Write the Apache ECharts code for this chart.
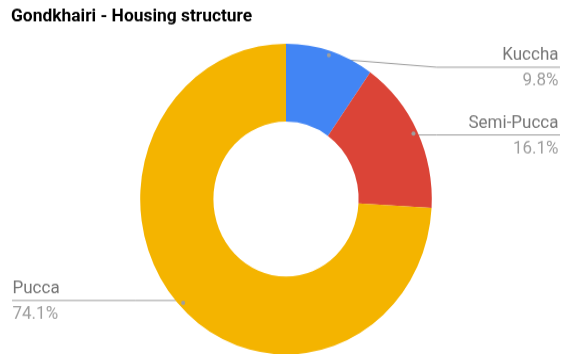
<!DOCTYPE html>
<html>
<head>
<meta charset="utf-8">
<title>Gondkhairi - Housing structure</title>
<script src="https://cdn.jsdelivr.net/npm/echarts@6/dist/echarts.min.js"></script>
<style>
  html, body { margin: 0; padding: 0; background: #fff; width: 561px; height: 354px; overflow: hidden; }
  /* the chart is drawn 332px tall and stretched to fill the 354px frame */
  #main { width: 561px; height: 332px; transform: scaleY(1.0663); transform-origin: 0 0; }
</style>
</head>
<body>
<div id="main"></div>
<script>
// Housing structure shares (%)
const categories = ['Kuccha', 'Semi-Pucca', 'Pucca'];
const shares = [9.8, 16.1, 74.1];
const sliceColors = ['#4285f4', '#db4437', '#f4b400'];

const CENTER = [286, 186.7];
const R_OUT = 145.8;
const R_IN = 72.6;
const DOT_R = 0.95 * R_OUT;   // where each leader line starts
const LINE_TOP = 63;          // leader lines are kept below this y

const chart = echarts.init(document.getElementById('main'), null, { renderer: 'canvas' });

const pieData = categories.map((name, i) => ({
  name: name,
  value: shares[i],
  itemStyle: { color: sliceColors[i] }
}));

chart.setOption({
  animation: false,
  title: {
    text: 'Gondkhairi - Housing structure',
    left: 11,
    top: 7.5,
    padding: 0,
    textStyle: { fontFamily: 'Roboto', fontWeight: 'bold', fontSize: 17.4, color: '#000' }
  },
  series: [
    {
      type: 'pie',
      center: CENTER,
      radius: [R_IN, R_OUT],
      startAngle: 90,
      clockwise: true,
      percentPrecision: 1,
      avoidLabelOverlap: false,
      silent: true,
      data: pieData,
      label: {
        show: true,
        position: 'outside',
        formatter: '{n|{b}}\n{v|{d}%}',
        rich: {
          n: { fontFamily: 'Roboto', fontSize: 17, color: '#757575', lineHeight: 24 },
          v: { fontFamily: 'Roboto', fontSize: 17, color: '#9e9e9e', lineHeight: 24 }
        }
      },
      labelLine: {
        show: true,
        length: 10,
        length2: 10,
        lineStyle: { color: '#9e9e9e', width: 1 }
      },
      labelLayout: function (p) {
        const w = chart.getWidth();
        const rim = p.labelLinePoints[0];
        const dx = rim[0] - CENTER[0];
        const dy = rim[1] - CENTER[1];
        const len = Math.sqrt(dx * dx + dy * dy) || 1;
        const start = [CENTER[0] + dx / len * DOT_R, CENTER[1] + dy / len * DOT_R];
        const right = dx > 0;
        const lineY = Math.max(start[1], LINE_TOP);
        const elbowX = right ? CENTER[0] + R_OUT + 5 : CENTER[0] - R_OUT - 5;
        const endX = right ? w - 1 : 12;
        return {
          x: right ? w - 2.5 : 12.5,
          y: lineY + 1,
          align: right ? 'right' : 'left',
          verticalAlign: 'middle',
          labelLinePoints: [start, [elbowX, lineY], [endX, lineY]]
        };
      }
    },
    {
      // small markers where the leader lines leave the ring
      type: 'pie',
      center: CENTER,
      radius: [2 * DOT_R - R_OUT, R_OUT],
      startAngle: 90,
      clockwise: true,
      silent: true,
      z: 3,
      data: categories.map((name, i) => ({ name: name, value: shares[i] })),
      itemStyle: { color: 'rgba(0,0,0,0)' },
      label: {
        show: true,
        position: 'inside',
        formatter: '{d| }',
        rich: { d: { width: 4, height: 4, lineHeight: 4, fontSize: 1, backgroundColor: '#9e9e9e', borderRadius: 2 } }
      },
      labelLine: { show: false }
    }
  ]
});
</script>
</body>
</html>
